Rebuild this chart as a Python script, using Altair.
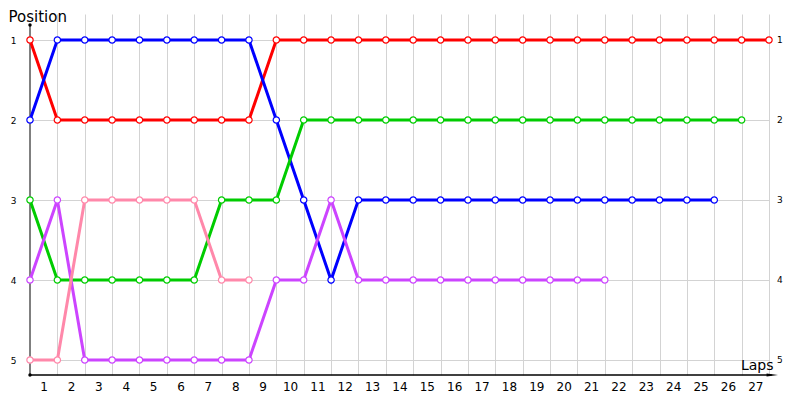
import altair as alt
import pandas as pd

# ---- data (positions per lap, lap 0 = start) ----
laps = list(range(0, 28))
red_pos = [1] + [2] * 8 + [1] * 19
blue_pos = [2] + [1] * 8 + [2, 3, 4] + [3] * 14
green_pos = [3] + [4] * 6 + [3] * 3 + [2] * 17
purple_pos = [4, 3] + [5] * 7 + [4, 4, 3] + [4] * 10
pink_pos = [5, 5] + [3] * 5 + [4] * 2

series_names = ["Red", "Blue", "Green", "Purple", "Pink"]
series_values = [red_pos, blue_pos, green_pos, purple_pos, pink_pos]
series_colors = ["#ff0000", "#0000ff", "#00cc00", "#cc44ff", "#ff88aa"]

lap_ticks = list(range(1, 28))
position_ticks = [1, 2, 3, 4, 5]

FONT = "DejaVu Sans"

x_scale = alt.Scale(domain=[0, 27], nice=False, zero=False)
y_scale = alt.Scale(domain=[0.675, 5.1875], reverse=True, nice=False, zero=False)

x_axis = alt.Axis(
    values=lap_ticks, grid=True, gridColor="#d3d3d3", gridWidth=1,
    ticks=False, domain=False, labelOffset=-13.685, labelPadding=6,
    labelFont=FONT, labelFontSize=12, labelColor="#000000", labelAngle=0,
    labelFlush=False, labelOverlap=False,
    title="Laps", titleX=743, titleY=-6, titleAlign="right",
    titleBaseline="alphabetic", titleFont=FONT, titleFontSize=14,
    titleFontWeight="normal", titleColor="#000000",
)
y_axis = alt.Axis(
    values=position_ticks, grid=True, gridColor="#d3d3d3", gridWidth=1,
    ticks=False, domain=False, labelPadding=14, labelFont=FONT,
    labelFontSize=9, labelColor="#000000", labelOverlap=False, labelFlush=False,
    title="Position", titleAngle=0, titleX=-22, titleY=7, titleAlign="left",
    titleBaseline="alphabetic", titleFont=FONT, titleFontSize=15,
    titleFontWeight="normal", titleColor="#000000",
)


def X(field):
    return alt.X(f"{field}:Q", scale=x_scale, axis=x_axis)


def Y(field):
    return alt.Y(f"{field}:Q", scale=y_scale, axis=y_axis)


# axis decorations (data units)
axis_frame = pd.DataFrame({
    "x0": [0.0], "x1": [27.1], "ytop": [0.8125], "ybot": [5.1875],
})

y_line = alt.Chart(axis_frame).mark_rule(color="#000000", strokeWidth=1).encode(
    x=X("x0"), y=Y("ytop"), y2="ybot")
x_line = alt.Chart(axis_frame).mark_rule(color="#000000", strokeWidth=1.3).encode(
    x=X("x0"), x2="x1", y=Y("ybot"))
arrow = alt.Chart(pd.DataFrame({"ax": [27.12], "ay": [5.1875]})).mark_point(
    shape="M-1,-0.27L1,0L-1,0.27Z", filled=True, color="#000000", size=130, opacity=1
).encode(x=X("ax"), y=Y("ay"))
dots = alt.Chart(pd.DataFrame({"dx": [0.0, 0.0], "dy": [0.8125, 5.1875]})).mark_point(
    shape="circle", filled=True, color="#000000", size=12, opacity=1
).encode(x=X("dx"), y=Y("dy"))

line_layers = []
point_layers = []
for name, vals, col in zip(series_names, series_values, series_colors):
    df = pd.DataFrame({"lap": laps[:len(vals)], "position": vals, "driver": name})
    base = alt.Chart(df)
    line_layers.append(base.mark_line(color=col, strokeWidth=3).encode(
        x=X("lap"), y=Y("position")))
    point_layers.append(base.mark_point(
        shape="circle", filled=True, fill="#ffffff", stroke=col,
        strokeWidth=1.2, size=40, opacity=1
    ).encode(x=X("lap"), y=Y("position")))

right_labels = alt.Chart(pd.DataFrame({
    "lx": [27] * len(position_ticks), "position": position_ticks,
    "label": [str(p) for p in position_ticks]})).mark_text(
    align="left", baseline="middle", dx=8, font=FONT, fontSize=9, color="#000000"
).encode(x=X("lx"), y=Y("position"), text="label:N")

chart = alt.layer(
    y_line, x_line, *line_layers, *point_layers, arrow, dots, right_labels
).properties(
    width=739, height=361,
    padding={"left": 22, "top": 6, "right": 23, "bottom": 17},
    autosize=alt.AutoSizeParams(type="none"),
    background="#ffffff",
).configure_view(stroke=None)

chart.save("out.html", embed_options={"renderer": "svg", "actions": False})
